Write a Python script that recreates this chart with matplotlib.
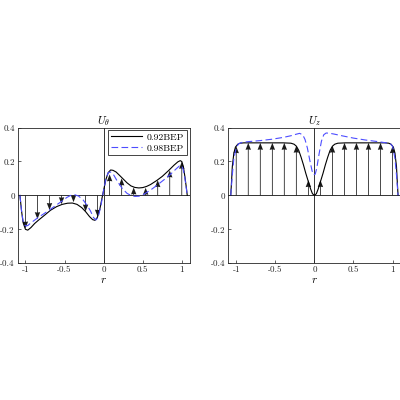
import matplotlib
matplotlib.use('Agg')
import matplotlib.pyplot as plt

plt.rcParams['font.family'] = ['cmr10', 'DejaVu Serif']
plt.rcParams['mathtext.fontset'] = 'cm'
plt.rcParams['axes.unicode_minus'] = False

# U_theta, 0.92BEP (solid black)
r_t92 = [-1.07, -1.05, -1.03, -1.0, -0.97, -0.93, -0.88, -0.83, -0.75, -0.68,
         -0.6, -0.53, -0.46, -0.4, -0.34, -0.28, -0.23, -0.18, -0.14, -0.11,
         -0.08, -0.05, -0.02, 0.0, 0.03, 0.06, 0.09, 0.12, 0.16, 0.2,
         0.25, 0.3, 0.35, 0.4, 0.45, 0.5, 0.55, 0.6, 0.68, 0.75,
         0.83, 0.9, 0.95, 0.98, 1.0, 1.02, 1.04, 1.06, 1.07]
u_t92 = [0.0, -0.09, -0.16, -0.2, -0.205, -0.19, -0.165, -0.145, -0.115, -0.088,
         -0.066, -0.053, -0.046, -0.045, -0.053, -0.072, -0.096, -0.125, -0.143, -0.147,
         -0.13, -0.085, -0.015, 0.03, 0.095, 0.135, 0.15, 0.148, 0.138, 0.12,
         0.097, 0.074, 0.056, 0.047, 0.044, 0.046, 0.053, 0.064, 0.088, 0.112,
         0.146, 0.178, 0.198, 0.205, 0.2, 0.17, 0.11, 0.04, 0.0]

# U_theta, 0.98BEP (dashed blue)
r_t98 = [-1.07, -1.05, -1.03, -1.0, -0.97, -0.93, -0.88, -0.83, -0.76, -0.69,
         -0.62, -0.54, -0.47, -0.42, -0.37, -0.32, -0.26, -0.21, -0.17, -0.13,
         -0.1, -0.07, -0.03, 0.0, 0.03, 0.06, 0.09, 0.13, 0.18, 0.24,
         0.3, 0.35, 0.4, 0.45, 0.5, 0.55, 0.62, 0.7, 0.78, 0.85,
         0.92, 0.97, 1.0, 1.02, 1.04, 1.06, 1.07]
u_t98 = [0.0, -0.09, -0.15, -0.18, -0.178, -0.162, -0.145, -0.128, -0.107, -0.085,
         -0.062, -0.036, -0.012, 0.0, 0.004, -0.004, -0.028, -0.06, -0.09, -0.13,
         -0.145, -0.13, -0.05, 0.03, 0.1, 0.135, 0.138, 0.12, 0.08, 0.04,
         0.012, 0.0, -0.006, -0.005, 0.003, 0.017, 0.038, 0.066, 0.095, 0.122,
         0.153, 0.174, 0.175, 0.15, 0.1, 0.035, 0.0]

# U_z, 0.92BEP (solid black)
r_z92 = [-1.07, -1.06, -1.05, -1.03, -1.01, -0.98, -0.95, -0.9, -0.6, -0.4,
         -0.3, -0.26, -0.23, -0.2, -0.17, -0.14, -0.11, -0.08, -0.05, -0.025,
         0.0, 0.025, 0.05, 0.08, 0.11, 0.14, 0.17, 0.2, 0.23, 0.26,
         0.3, 0.4, 0.6, 0.9, 0.95, 0.98, 1.01, 1.03, 1.05, 1.06, 1.07]
u_z92 = [0.0, 0.08, 0.17, 0.25, 0.285, 0.302, 0.308, 0.31, 0.31, 0.31,
         0.308, 0.302, 0.29, 0.265, 0.225, 0.18, 0.13, 0.085, 0.04, 0.01,
         0.0, 0.01, 0.04, 0.085, 0.13, 0.18, 0.225, 0.265, 0.29, 0.302,
         0.308, 0.31, 0.31, 0.31, 0.308, 0.302, 0.285, 0.25, 0.17, 0.08, 0.0]

# U_z, 0.98BEP (dashed blue)
r_z98 = [-1.07, -1.05, -1.03, -1.0, -0.97, -0.93, -0.85, -0.7, -0.55, -0.4,
         -0.3, -0.24, -0.19, -0.15, -0.12, -0.09, -0.06, -0.03, -0.01, 0.01,
         0.03, 0.06, 0.09, 0.12, 0.15, 0.19, 0.25, 0.35, 0.5, 0.65,
         0.8, 0.92, 0.97, 1.0, 1.03, 1.05, 1.07]
u_z98 = [0.0, 0.12, 0.22, 0.28, 0.305, 0.312, 0.317, 0.323, 0.331, 0.342,
         0.352, 0.36, 0.366, 0.358, 0.33, 0.28, 0.21, 0.145, 0.122, 0.125,
         0.16, 0.245, 0.32, 0.358, 0.368, 0.367, 0.362, 0.352, 0.338, 0.327,
         0.318, 0.31, 0.306, 0.29, 0.22, 0.12, 0.0]

# arrow stations and arrow lengths (0.92BEP)
r_arrow = [-1.0, -0.846, -0.692, -0.538, -0.385, -0.231, -0.077,
           0.077, 0.231, 0.385, 0.538, 0.692, 0.846, 1.0]
ut_arrow = [-0.195, -0.14, -0.086, -0.052, -0.04, -0.095, -0.125,
            0.124, 0.1, 0.047, 0.045, 0.09, 0.147, 0.198]
uz_arrow = [0.29, 0.31, 0.31, 0.31, 0.31, 0.293, 0.09,
            0.09, 0.293, 0.31, 0.31, 0.31, 0.31, 0.29]

yticks = [-0.4, -0.2, 0, 0.2, 0.4]
ytick_labels = ['-0.4', '-0.2', '0', '0.2', '0.4']
xticks = [-1, -0.5, 0, 0.5, 1]
xtick_labels = ['-1', '-0.5', '0', '0.5', '1']

blue = '#4d4dff'

fig = plt.figure(figsize=(4, 4), dpi=100)
ax1 = fig.add_axes([0.044, 0.342, 0.43, 0.339])
ax2 = fig.add_axes([0.571, 0.342, 0.43, 0.339])

panels = [
    (ax1, r_t92, u_t92, r_t98, u_t98, ut_arrow, r'$U_\theta$'),
    (ax2, r_z92, u_z92, r_z98, u_z98, uz_arrow, r'$U_z$'),
]

for ax, r1, u1, r2, u2, ua, title in panels:
    ax.axhline(0, color='0.2', lw=0.7, zorder=1)
    ax.axvline(0, color='0.2', lw=0.7, zorder=1)
    ax.quiver(r_arrow, [0] * len(r_arrow), [0] * len(r_arrow), ua,
              angles='xy', scale_units='xy', scale=1, color='0.1',
              width=0.0045, headwidth=7, headlength=9, headaxislength=8.5,
              zorder=2)
    ax.plot(r1, u1, color='k', lw=0.8, label='0.92BEP', zorder=3)
    ax.plot(r2, u2, color=blue, lw=0.8, ls=(0, (6, 3)), label='0.98BEP', zorder=3)

    ax.set_xlim(-1.1, 1.1)
    ax.set_ylim(-0.4, 0.4)
    ax.set_xticks(xticks)
    ax.set_xticklabels(xtick_labels)
    ax.set_yticks(yticks)
    ax.set_yticklabels(ytick_labels)
    ax.tick_params(direction='in', length=2, width=0.5, labelsize=6.5,
                   colors='0.15', pad=2, top=False, right=False)
    for s in ax.spines.values():
        s.set_linewidth(0.6)
        s.set_color('0.15')
    ax.set_title(title, fontsize=8, pad=2)
    ax.set_xlabel(r'$r$', fontsize=8, labelpad=1)

leg = ax1.legend(loc='upper right', fontsize=7, handlelength=3.2,
                 borderpad=0.3, labelspacing=0.2, handletextpad=0.5,
                 borderaxespad=0.25, fancybox=False, framealpha=1)
leg.get_frame().set_edgecolor('0.15')
leg.get_frame().set_linewidth(0.6)

fig.savefig('out.png', dpi=100)
